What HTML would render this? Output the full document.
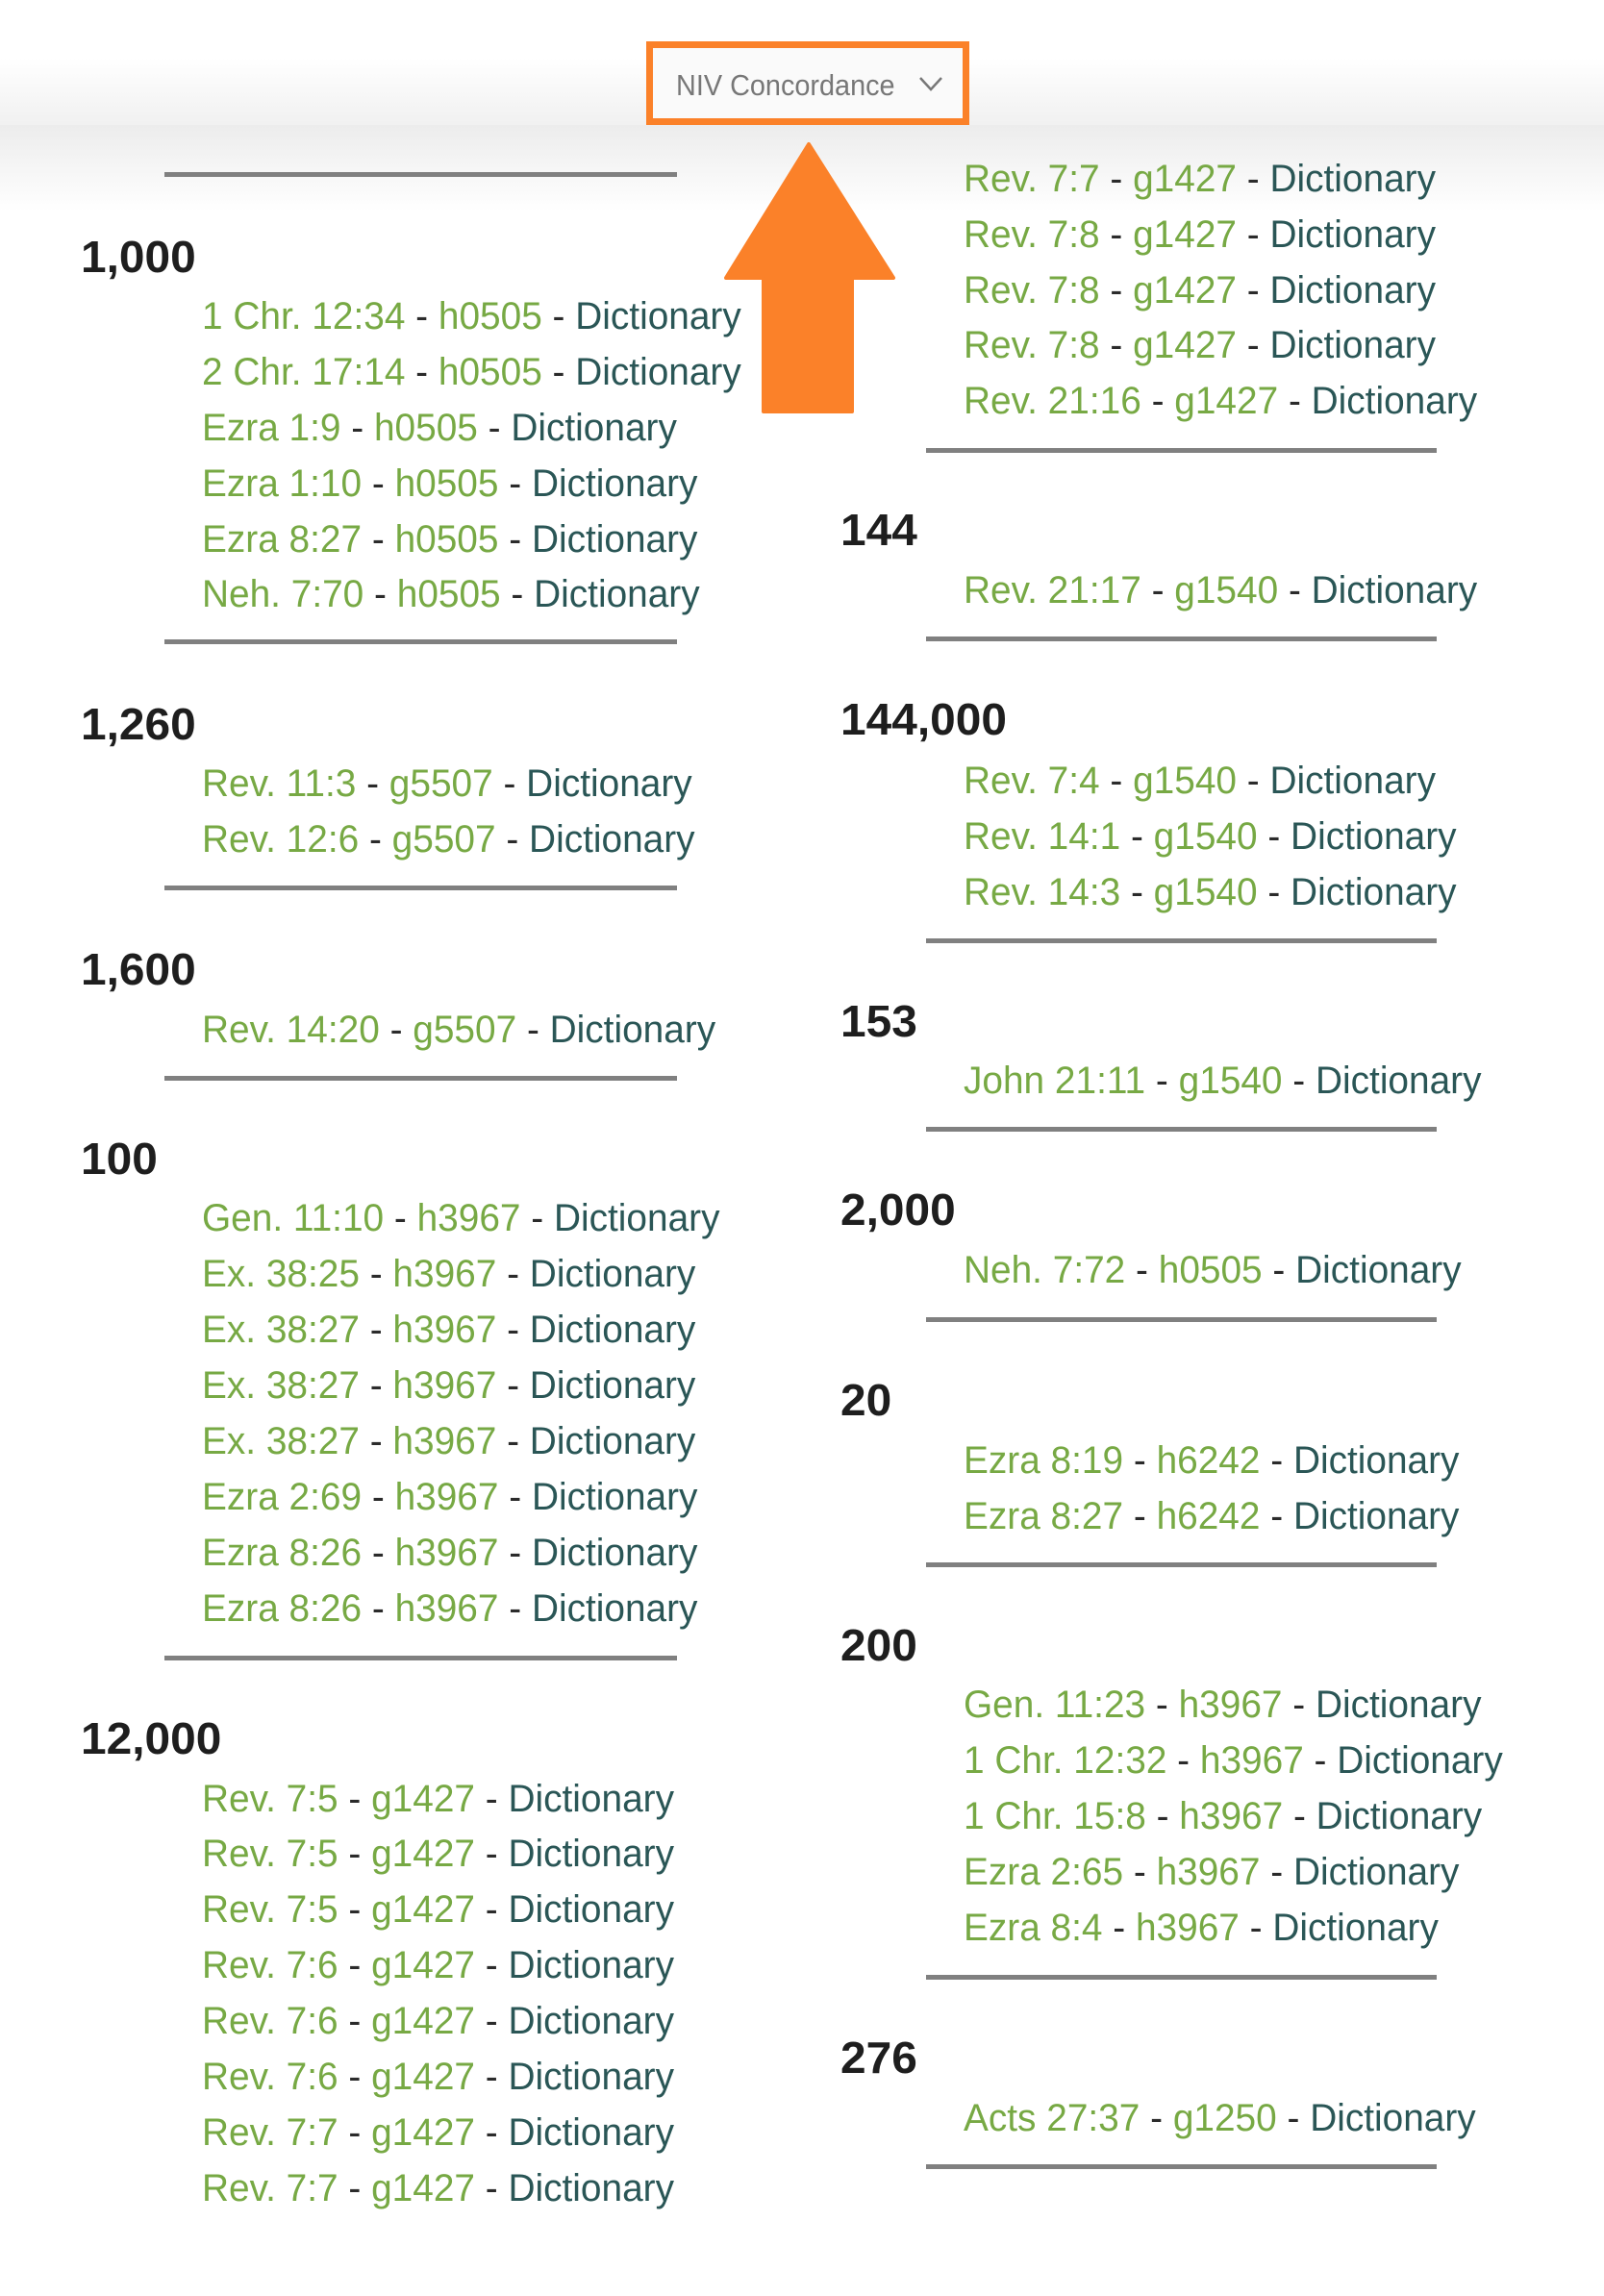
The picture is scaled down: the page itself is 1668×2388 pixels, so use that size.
<!DOCTYPE html>
<html><head><meta charset="utf-8">
<style>
html,body{margin:0;padding:0;}
body{width:1668px;height:2388px;position:relative;overflow:hidden;background:#fff;font-family:"Liberation Sans",sans-serif;}
.hdr{position:absolute;left:0;top:0;width:1668px;height:130px;background:linear-gradient(#fff 0,#fff 60px,#f1f1f1 128px);}
.hdr2{position:absolute;left:0;top:130px;width:1668px;height:90px;background:linear-gradient(#ececec,#fff);}
.box{position:absolute;left:672px;top:43px;width:336px;height:87px;box-sizing:border-box;border:7px solid #fb8129;background:#fafafa;}
.box span{position:absolute;left:24px;top:21px;font-size:31px;color:#777;transform:scaleX(0.93);transform-origin:left;white-space:nowrap;}
.rule{position:absolute;height:5px;background:#808080;}
.h{position:absolute;font-weight:bold;font-size:46px;line-height:50px;color:#1e1e1e;transform:scaleX(1.04);transform-origin:left;white-space:nowrap;}
.e{position:absolute;font-size:40px;line-height:50px;white-space:nowrap;transform:scaleX(0.97);transform-origin:left;color:#2b2b2b;}
.g{color:#77a944;}
.d{color:#2a5656;}
</style></head><body>
<div class="hdr"></div><div class="hdr2"></div>
<div class="box"><span>NIV Concordance</span>
<svg style="position:absolute;left:275px;top:28px" width="30" height="20"><polyline points="3,3 14,15 25,3" fill="none" stroke="#777" stroke-width="2.5"/></svg></div>
<svg style="position:absolute;left:0;top:0" width="1668" height="500">
<polygon points="841,150 929,289 886,289 886,428 794,428 794,289 755,289" fill="#fb8129" stroke="#fb8129" stroke-width="4" stroke-linejoin="round"/>
</svg>
<div id="c"></div>
<script>
var S=1.5233,out=[];
function rule(x1,x2,y){out.push('<div class="rule" style="left:'+x1+'px;width:'+(x2-x1)+'px;top:'+Math.round(y*S-2)+'px"></div>');}
function h(x,y,t){out.push('<div class="h" style="left:'+x+'px;top:'+Math.round(y*S-25)+'px">'+t+'</div>');}
function e(x,y,a,b){out.push('<div class="e" style="left:'+x+'px;top:'+Math.round(y*S-25)+'px"><span class="g">'+a+'</span> - <span class="g">'+b+'</span> - <span class="d">Dictionary</span></div>');}
var L=[[119],["1,000",175,[["1 Chr. 12:34","h0505"],["2 Chr. 17:14","h0505"],["Ezra 1:9","h0505"],["Ezra 1:10","h0505"],["Ezra 8:27","h0505"],["Neh. 7:70","h0505"]],216],[438],
["1,260",494,[["Rev. 11:3","g5507"],["Rev. 12:6","g5507"]],535],[606],
["1,600",662,[["Rev. 14:20","g5507"]],703],[736],
["100",791,[["Gen. 11:10","h3967"],["Ex. 38:25","h3967"],["Ex. 38:27","h3967"],["Ex. 38:27","h3967"],["Ex. 38:27","h3967"],["Ezra 2:69","h3967"],["Ezra 8:26","h3967"],["Ezra 8:26","h3967"]],832],[1132],
["12,000",1187,[["Rev. 7:5","g1427"],["Rev. 7:5","g1427"],["Rev. 7:5","g1427"],["Rev. 7:6","g1427"],["Rev. 7:6","g1427"],["Rev. 7:6","g1427"],["Rev. 7:7","g1427"],["Rev. 7:7","g1427"]],1228]];
var R=[[null,0,[["Rev. 7:7","g1427"],["Rev. 7:8","g1427"],["Rev. 7:8","g1427"],["Rev. 7:8","g1427"],["Rev. 21:16","g1427"]],122],[307],
["144",362,[["Rev. 21:17","g1540"]],403],[436],
["144,000",491,[["Rev. 7:4","g1540"],["Rev. 14:1","g1540"],["Rev. 14:3","g1540"]],533],[642],
["153",697,[["John 21:11","g1540"]],738],[771],
["2,000",826,[["Neh. 7:72","h0505"]],867],[901],
["20",956,[["Ezra 8:19","h6242"],["Ezra 8:27","h6242"]],997],[1068],
["200",1123,[["Gen. 11:23","h3967"],["1 Chr. 12:32","h3967"],["1 Chr. 15:8","h3967"],["Ezra 2:65","h3967"],["Ezra 8:4","h3967"]],1164],[1350],
["276",1405,[["Acts 27:37","g1250"]],1446],[1479]];
function col(list,hx,ex,r1,r2){list.forEach(function(it){
 if(it.length==1){rule(r1,r2,it[0]);return;}
 if(it[0])h(hx,it[1],it[0]);
 it[2].forEach(function(p,i){e(ex,it[3]+i*38,p[0],p[1]);});
});}
col(L,84,210,171,704);
col(R,874,1002,963,1494);
document.getElementById('c').innerHTML=out.join('');
</script>
</body></html>
